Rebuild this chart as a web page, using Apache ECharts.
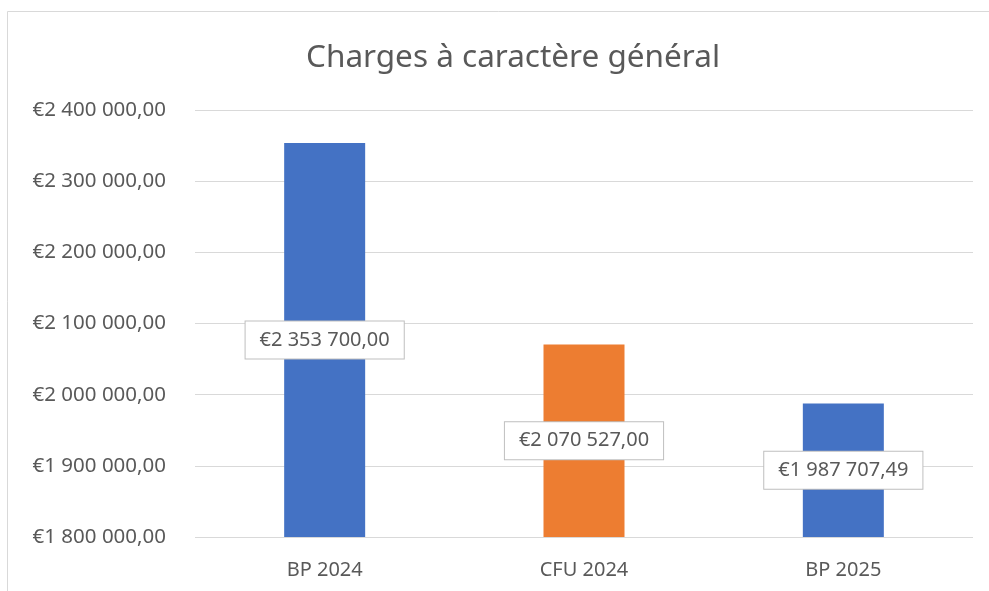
<!DOCTYPE html>
<html>
<head>
<meta charset="utf-8">
<script src="https://cdn.jsdelivr.net/npm/echarts@6/dist/echarts.min.js"></script>
<style>
  html, body { margin: 0; padding: 0; background: #fff; }
  #main { width: 989px; height: 591px; }
</style>
</head>
<body>
<div id="main"></div>
<script>
var categories = ['BP 2024', 'CFU 2024', 'BP 2025'];
var values = [2353700.00, 2070527.00, 1987707.49];
var barColors = ['#4472C4', '#ED7D31', '#4472C4'];
var yMin = 1800000, yMax = 2400000, yStep = 100000;

// format à la française : €2 353 700,00
function euro(v) {
    var parts = Number(v).toFixed(2).split('.');
    var ent = parts[0].replace(/\B(?=(\d{3})+(?!\d))/g, ' ');
    return '€' + ent + ',' + parts[1];
}

var myChart = echarts.init(document.getElementById('main'));
var font = 'Noto Sans';

var option = {
    animation: false,
    backgroundColor: '#fff',
    title: {
        text: 'Charges à caractère général',
        left: 301,
        top: 37,
        textStyle: {
            color: '#595959',
            fontFamily: font,
            fontSize: 31.5,
            fontWeight: 'normal'
        }
    },
    graphic: [{
        type: 'rect',
        shape: { x: 7.5, y: 11.5, width: 1000, height: 600 },
        style: { fill: 'none', stroke: '#d9d9d9', lineWidth: 1 },
        z: -1
    }],
    grid: {
        left: 195,
        right: 16,
        top: 110,
        bottom: 54,
        containLabel: false
    },
    xAxis: {
        type: 'category',
        data: categories,
        axisLine: { show: false },
        axisTick: { show: false },
        axisLabel: {
            color: '#595959',
            fontFamily: font,
            fontSize: 20,
            margin: 23
        }
    },
    yAxis: {
        type: 'value',
        min: yMin,
        max: yMax,
        interval: yStep,
        axisLine: { show: false },
        axisTick: { show: false },
        splitLine: { lineStyle: { color: '#d9d9d9', width: 1 } },
        axisLabel: {
            color: '#595959',
            fontFamily: font,
            fontSize: 20.5,
            margin: 29,
            formatter: function (v) { return euro(v); }
        }
    },
    series: [{
        type: 'bar',
        barWidth: 81,
        data: values.map(function (v, i) {
            return { value: v, itemStyle: { color: barColors[i] } };
        }),
        label: {
            show: true,
            position: 'inside',
            color: '#595959',
            fontFamily: font,
            fontSize: 20,
            backgroundColor: '#fff',
            borderColor: '#bfbfbf',
            borderWidth: 1,
            padding: [9, 14, 8, 14],
            formatter: function (p) { return euro(p.value); }
        }
    }]
};

myChart.setOption(option);
</script>
</body>
</html>
